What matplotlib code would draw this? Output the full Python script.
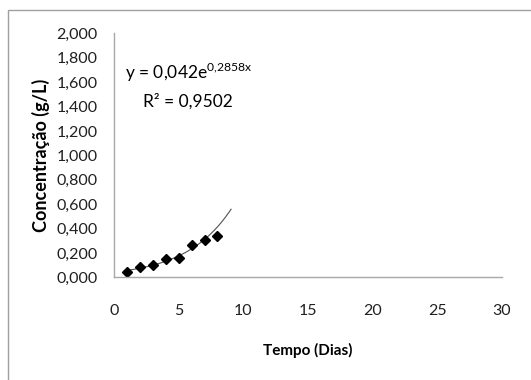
import numpy as np
import matplotlib.pyplot as plt
from matplotlib.patches import Rectangle
from matplotlib.ticker import FuncFormatter

plt.rcParams['font.family'] = ['Lato', 'DejaVu Sans']
plt.rcParams['mathtext.fontset'] = 'custom'
plt.rcParams['mathtext.rm'] = 'Lato'

# measured points
dias = [1, 2, 3, 4, 5, 6, 7, 8]
conc = [0.041, 0.085, 0.098, 0.148, 0.158, 0.265, 0.306, 0.339]

# exponential trendline y = a*e^(b*x)
a_fit = 0.042
b_fit = 0.2858
r2 = 0.9502
x_fit_start = 1.0
x_fit_end = 9.05

fig = plt.figure(figsize=(5.31, 3.80), dpi=100)
# outer chart frame
fig.patches.append(Rectangle((8 / 531, -0.05), 1.1, (370 / 380) + 0.05,
                             transform=fig.transFigure, fill=False,
                             edgecolor='#a0a0a0', linewidth=1.0))

ax = fig.add_axes([114 / 531, 1 - 277.3 / 380, (502 - 114) / 531, (277.3 - 33.3) / 380])

xf = np.linspace(x_fit_start, x_fit_end, 200)
ax.plot(xf, a_fit * np.exp(b_fit * xf), color='#505050', linewidth=0.8)
ax.plot(dias, conc, linestyle='none', marker='D', markersize=5.5, color='black')

ax.set_xlim(0, 30)
ax.set_ylim(0, 2.0)
ax.set_xticks(np.arange(0, 31, 5))
ax.set_yticks(np.arange(0, 2.01, 0.2))
ax.yaxis.set_major_formatter(FuncFormatter(lambda v, p: f"{v:.3f}".replace('.', ',')))

for s in ['top', 'right']:
    ax.spines[s].set_visible(False)
for s in ['left', 'bottom']:
    ax.spines[s].set_color('#a8a8a8')
    ax.spines[s].set_linewidth(1.0)

ax.tick_params(axis='y', length=0, pad=12, labelsize=11.5, colors='#202020')
ax.tick_params(axis='x', length=0, pad=19, labelsize=11.5, colors='#202020')

ax.set_xlabel('Tempo (Dias)', fontsize=11, fontweight='bold', labelpad=18)
ax.set_ylabel('Concentração (g/L)', fontsize=13, fontweight='bold', labelpad=4.5)

ax.text(0.028, 0.841, 'y = 0,042e$^{\\mathregular{0{,}2858x}}$', transform=ax.transAxes,
        fontsize=12.5, va='center', ha='left')
ax.text(0.19, 0.722, 'R² = ' + f"{r2:.4f}".replace('.', ','), transform=ax.transAxes,
        fontsize=12.5, va='center', ha='center')

fig.savefig('out.png', dpi=100)
